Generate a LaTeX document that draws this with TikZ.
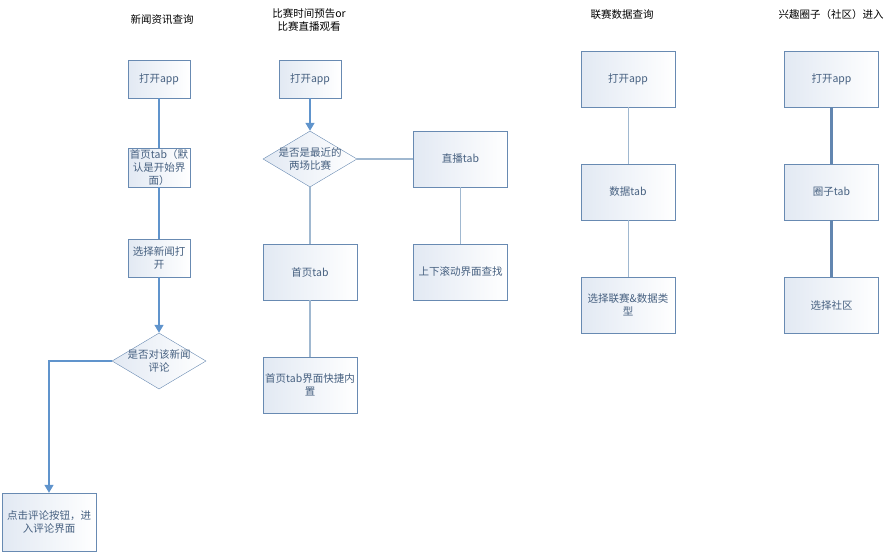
\documentclass[tikz,border=0pt]{standalone}
\usepackage{fontspec}
\setmainfont{Noto Sans CJK SC}
\usetikzlibrary{shapes.geometric,arrows.meta,positioning}
\definecolor{boxblue}{RGB}{104,138,178}
\definecolor{boxshade}{RGB}{226,233,243}
\definecolor{boxtext}{RGB}{70,96,128}
\definecolor{flowblue}{RGB}{96,148,204}
\definecolor{paleblue}{RGB}{160,184,208}
\definecolor{deepblue}{RGB}{98,134,176}

\begin{document}
\begin{tikzpicture}[
    x=1pt, y=-1pt,
    every node/.style={align=center, font=\fontsize{10.5}{13.3}\selectfont},
    title/.style={text=black},
    stepbox/.style={rectangle, draw=boxblue, left color=boxshade, right color=white, text=boxtext, minimum width=94pt, minimum height=56pt, inner sep=0pt},
    smallbox/.style={stepbox, minimum width=62pt, minimum height=38pt},
    decision/.style={diamond, draw=boxblue, left color=boxshade, right color=white, minimum width=94pt, minimum height=56pt, inner sep=0pt},
    decisiontext/.style={text=boxtext},
    flowline/.style={draw=flowblue, line width=1.4pt},
    flowarrow/.style={flowline, -{Triangle[width=9pt,length=8pt]}},
    paleline/.style={draw=paleblue, line width=1.4pt},
    thinline/.style={draw=paleblue, line width=1pt},
    thickline/.style={draw=deepblue, line width=2.6pt}
]
\useasboundingbox (0,0) rectangle (891,552);

% titles
\node[title] (t_news) at (162,20) {新闻资讯查询};
\node[title] (t_match) at (309,20) {比赛时间预告or\\比赛直播观看};
\node[title] (t_league) at (622,15) {联赛数据查询};
\node[title] (t_circle) at (831,15) {兴趣圈子（社区）进入};

% news column
\node[smallbox] (n_open) at (159,79) {打开app};
\node[smallbox, minimum height=39pt] (n_home) at (159,167.5) {首页tab（默\\认是开始界\\面）};
\node[smallbox] (n_pick) at (159,258) {选择新闻打\\开};
\node[decision, label={[decisiontext]center:是否对该新闻\\评论}] (n_ask) at (159,361) {};
\node[stepbox, minimum height=58pt] (n_comment) at (49,522) {点击评论按钮，进\\入评论界面};

\draw[flowline] (n_open) -- (n_home);
\draw[flowline] (n_home) -- (n_pick);
\draw[flowarrow] (n_pick) -- (n_ask);
\draw[flowarrow] (n_ask.west) -| (n_comment.north);

% match column
\node[smallbox] (m_open) at (310,79) {打开app};
\node[decision, label={[decisiontext]center:是否是最近的\\两场比赛}] (m_recent) at (310,159) {};
\node[stepbox] (m_live) at (460.5,159) {直播tab};
\node[stepbox] (m_home) at (310,272) {首页tab};
\node[stepbox] (m_quick) at (310,385) {首页tab界面快捷内\\置};
\node[stepbox] (m_scroll) at (460.5,272) {上下滚动界面查找};

\draw[flowarrow] (m_open) -- (m_recent);
\draw[paleline] (m_recent.east) -- (m_live);
\draw[paleline] (m_recent) -- (m_home);
\draw[paleline] (m_home) -- (m_quick);
\draw[paleline] (m_live) -- (m_scroll);

% league column
\node[stepbox] (l_open) at (628,79) {打开app};
\node[stepbox] (l_data) at (628,192) {数据tab};
\node[stepbox] (l_pick) at (628,305) {选择联赛\&数据类\\型};

\draw[thinline] (l_open) -- (l_data);
\draw[thinline] (l_data) -- (l_pick);

% circle column
\node[stepbox] (c_open) at (831.5,79) {打开app};
\node[stepbox] (c_tab) at (831.5,192) {圈子tab};
\node[stepbox] (c_pick) at (831.5,305) {选择社区};

\draw[thickline] (c_open) -- (c_tab);
\draw[thickline] (c_tab) -- (c_pick);

\end{tikzpicture}
\end{document}
